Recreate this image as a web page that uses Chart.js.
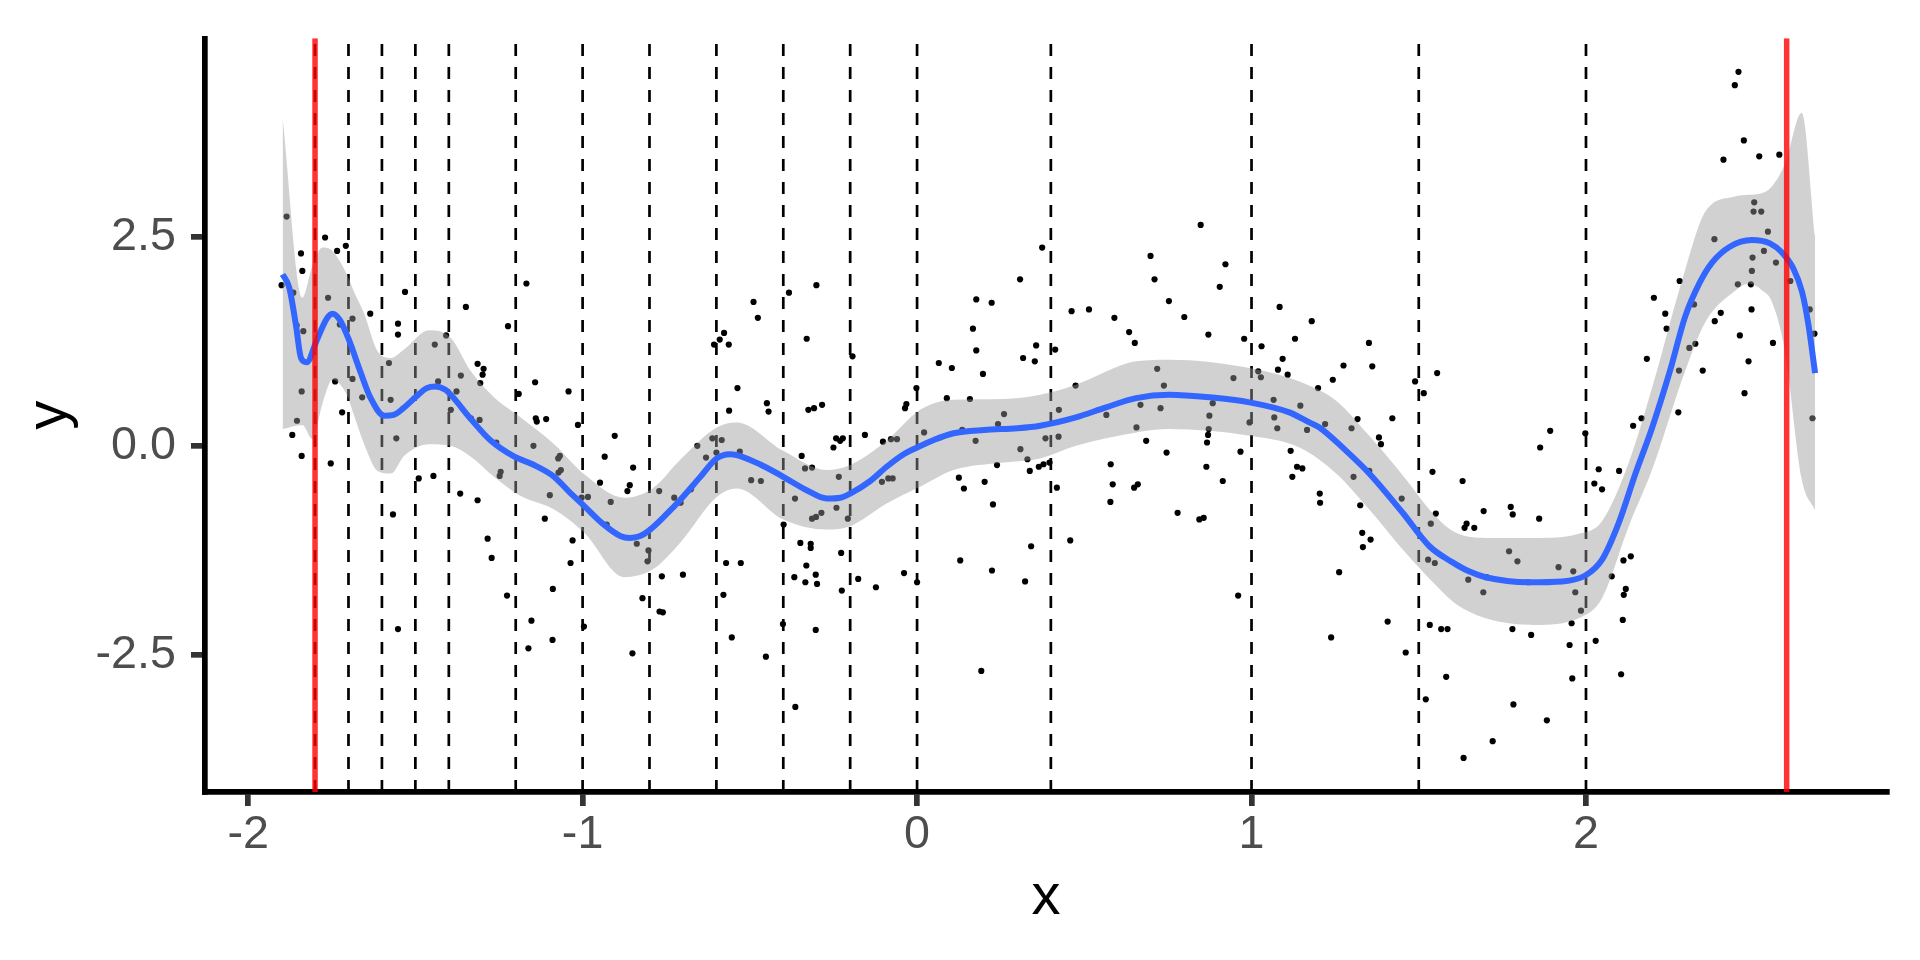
<!DOCTYPE html>
<html lang="en">
<head>
    <meta charset="UTF-8">
    <title>Spline fit with knots</title>
    <script src="https://cdn.jsdelivr.net/npm/chart.js@4"></script>
    <style>
        html, body { margin: 0; background: #ffffff; }
        #wrap { width: 1920px; height: 960px; }
    </style>
</head>
<body>
<div id="wrap"><canvas id="fitChart"></canvas></div>
<script>
    // Axis ticks
    const xTicks = [-2, -1, 0, 1, 2];
    const xTickLabels = ["-2", "-1", "0", "1", "2"];
    const yTicks = [-2.5, 0, 2.5];
    const yTickLabels = ["-2.5", "0.0", "2.5"];

    // Knot positions (dashed) and boundary knots (red)
    const knots = [-1.8, -1.7, -1.6, -1.5, -1.4, -1.2, -1.0, -0.8, -0.6, -0.4, -0.2, 0, 0.4, 1.0, 1.5, 2.0];
    const boundaryKnots = [-1.8, 2.6];

    // Fitted curve
    const smoothX = [-1.897, -1.877, -1.857, -1.842, -1.825, -1.795, -1.765, -1.748, -1.725, -1.700, -1.663, -1.635, -1.593, -1.565, -1.536, -1.500, -1.466, -1.440, -1.410, -1.394, -1.334, -1.274, -1.204, -1.150, -1.085, -1.040, -0.995, -0.940, -0.886, -0.860, -0.830, -0.798, -0.750, -0.709, -0.650, -0.599, -0.560, -0.539, -0.470, -0.400, -0.330, -0.270, -0.230, -0.200, -0.140, -0.091, -0.040, 0.000, 0.050, 0.109, 0.200, 0.300, 0.368, 0.475, 0.565, 0.655, 0.754, 0.874, 0.994, 1.113, 1.173, 1.203, 1.283, 1.352, 1.452, 1.532, 1.600, 1.650, 1.700, 1.829, 1.929, 1.998, 2.048, 2.098, 2.148, 2.198, 2.250, 2.297, 2.340, 2.377, 2.430, 2.496, 2.550, 2.586, 2.620, 2.646, 2.665, 2.685];
    const smoothY = [2.05, 1.89, 1.44, 1.05, 1.00, 1.26, 1.52, 1.58, 1.50, 1.28, 0.87, 0.58, 0.36, 0.37, 0.45, 0.58, 0.69, 0.71, 0.67, 0.61, 0.32, 0.06, -0.13, -0.22, -0.37, -0.55, -0.72, -0.93, -1.08, -1.10, -1.08, -1.00, -0.82, -0.65, -0.38, -0.15, -0.10, -0.11, -0.22, -0.37, -0.53, -0.63, -0.62, -0.57, -0.42, -0.25, -0.10, -0.02, 0.07, 0.15, 0.19, 0.21, 0.24, 0.34, 0.46, 0.57, 0.61, 0.58, 0.52, 0.40, 0.28, 0.22, -0.06, -0.33, -0.80, -1.20, -1.39, -1.50, -1.57, -1.63, -1.62, -1.55, -1.36, -0.92, -0.33, 0.22, 0.88, 1.55, 1.95, 2.19, 2.38, 2.46, 2.42, 2.31, 2.12, 1.84, 1.45, 0.87];

    // Confidence band
    const bandX = [-1.897, -1.838, -1.808, -1.778, -1.748, -1.705, -1.683, -1.653, -1.613, -1.573, -1.534, -1.459, -1.394, -1.334, -1.265, -1.185, -1.085, -0.995, -0.876, -0.788, -0.709, -0.599, -0.539, -0.400, -0.270, -0.200, -0.091, 0.009, 0.109, 0.258, 0.368, 0.475, 0.655, 0.754, 0.994, 1.143, 1.253, 1.352, 1.452, 1.552, 1.611, 1.700, 1.849, 1.978, 2.048, 2.128, 2.198, 2.297, 2.357, 2.445, 2.486, 2.526, 2.556, 2.595, 2.645, 2.685];
    const bandLow = [0.20, 0.25, 0.08, 0.50, 0.79, 0.61, 0.36, 0.02, -0.30, -0.33, -0.12, 0.02, 0.00, -0.13, -0.37, -0.60, -0.76, -1.04, -1.57, -1.47, -1.16, -0.61, -0.51, -0.88, -1.00, -0.96, -0.69, -0.49, -0.29, -0.20, -0.15, 0.00, 0.16, 0.20, 0.12, -0.02, -0.33, -0.76, -1.24, -1.67, -1.89, -2.06, -2.14, -2.06, -1.82, -0.96, -0.28, 0.90, 1.48, 1.85, 1.94, 1.86, 1.72, 1.13, -0.40, -0.77];
    const bandHigh = [3.92, 1.77, 2.15, 2.37, 2.33, 2.05, 1.84, 1.58, 1.13, 1.05, 1.15, 1.38, 1.29, 0.89, 0.58, 0.34, 0.02, -0.34, -0.62, -0.50, -0.17, 0.22, 0.28, -0.06, -0.29, -0.23, 0.06, 0.43, 0.55, 0.56, 0.61, 0.73, 1.01, 1.03, 0.93, 0.77, 0.54, 0.12, -0.35, -0.85, -1.04, -1.10, -1.10, -1.05, -0.90, -0.20, 0.70, 2.11, 2.80, 2.98, 3.00, 3.02, 3.10, 3.37, 3.98, 2.50];

    // Observations [x, y]
    const observations = [
        [-1.885, 2.74], [-1.770, 2.49], [-1.734, 2.33], [-1.708, 2.39], [-1.842, 2.30], [-1.838, 2.09], [-1.900, 1.92], [-1.865, 1.83], [-1.761, 1.77], [-1.531, 1.84],
        [-1.168, 1.94], [-1.635, 1.58], [-1.688, 1.52], [-1.349, 1.66], [-1.552, 1.46], [-1.552, 1.33], [-1.855, 1.44], [-1.835, 1.37], [-1.726, 1.45], [-1.408, 1.32],
        [-1.223, 1.43], [-1.442, 1.21], [-1.579, 0.99], [-1.314, 0.98], [-1.296, 0.92], [-1.299, 0.85], [-1.306, 0.75], [-1.364, 0.84], [-1.432, 0.77], [-1.377, 0.65],
        [-1.688, 0.80], [-1.740, 0.77], [-1.840, 0.65], [-1.659, 0.58], [-1.574, 0.55], [-1.191, 0.62], [-1.142, 0.76], [-1.042, 0.65], [-1.394, 0.43], [-1.719, 0.40],
        [-1.854, 0.30], [-1.868, 0.13], [-1.557, 0.09], [-1.334, 0.33], [-1.308, 0.31], [-1.140, 0.33], [-1.137, 0.29], [-1.109, 0.32], [-1.014, 0.25], [-0.904, 0.12],
        [-1.258, 0.04],
        [-1.840, -0.12], [-1.753, -0.21], [-1.147, 0.00], [-1.068, -0.12], [-1.073, -0.15], [-1.065, -0.29], [-1.072, -0.32], [-1.245, -0.31], [-1.248, -0.36], [-0.934, -0.13],
        [-0.948, -0.44], [-1.098, -0.59], [-1.003, -0.62], [-0.984, -0.61], [-0.916, -0.67], [-0.928, -0.94], [-1.113, -0.87], [-1.030, -1.13], [-1.036, -1.40], [-1.490, -0.39],
        [-1.446, -0.36], [-1.366, -0.57], [-1.314, -0.65], [-1.567, -0.82], [-1.284, -1.11], [-1.272, -1.34], [-1.226, -1.79], [-1.089, -1.71], [-1.153, -2.09], [-1.090, -2.32],
        [-1.162, -2.42], [-1.552, -2.19], [-0.996, -2.16],
        [0.308, 1.99], [0.177, 1.75], [0.223, 1.71], [0.167, 1.40], [0.177, 1.14], [0.197, 0.86], [0.317, 1.05], [0.352, 1.01], [0.356, 1.20], [0.065, 0.99],
        [0.104, 0.93], [0.089, 0.57], [0.158, 0.56], [0.260, 0.38], [0.242, 0.26], [0.135, 0.19], [0.175, 0.06], [0.021, 0.16], [-0.002, 0.69], [-0.032, 0.50],
        [-0.036, 0.45], [-0.156, 0.13], [-0.102, 0.05], [-0.078, 0.08], [-0.060, 0.08], [-0.242, 0.09], [-0.222, 0.09], [-0.230, 0.06], [-0.193, 1.07], [-0.383, 1.83],
        [-0.301, 1.92], [-0.330, 1.28], [-0.325, 0.43], [-0.308, 0.45], [-0.284, 0.49], [-0.489, 1.72], [-0.476, 1.53], [-0.537, 0.69], [-0.449, 0.51], [-0.444, 0.41],
        [-0.607, 1.21], [-0.590, 1.27], [-0.577, 1.35], [-0.563, 1.21], [-0.562, 0.42], [-0.612, 0.09], [-0.584, 0.07],
        [-0.849, -0.26], [-0.859, -0.47], [-0.866, -0.54], [-0.771, -0.54], [-0.726, -0.62], [-0.707, -0.68], [-0.676, -0.52], [-0.657, 0.00], [-0.631, -0.14], [-0.600, -0.08],
        [-0.530, -0.07], [-0.496, -0.41], [-0.467, -0.42], [-0.345, -0.12], [-0.335, -0.27], [-0.314, -0.26], [-0.250, -0.02], [-0.234, -0.37], [-0.365, -0.63], [-0.399, -0.94],
        [-0.314, -0.87], [-0.302, -0.85], [-0.286, -0.80], [-0.241, -0.74], [-0.207, -0.87], [-0.105, -0.43], [-0.086, -0.39], [-0.073, -0.39], [0.309, -0.04], [0.330, -0.16],
        [0.337, -0.30], [0.239, -0.23], [0.125, -0.38], [0.140, -0.51], [0.202, -0.43], [0.227, -0.70], [0.341, -1.20], [0.129, -1.37], [0.224, -1.49], [0.323, -1.62],
        [0.192, -2.69], [-0.039, -1.52], [0.000, -1.63], [-0.123, -1.69], [-0.176, -1.59], [-0.227, -1.28], [-0.225, -1.73], [-0.349, -1.16], [-0.318, -1.17], [-0.318, -1.22],
        [-0.331, -1.43], [-0.303, -1.54], [-0.299, -1.65], [-0.367, -1.57], [-0.334, -1.63], [-0.303, -2.20], [-0.401, -2.13], [-0.364, -3.12], [-0.452, -2.52], [-0.554, -2.29],
        [-0.579, -1.78], [-0.571, -1.40], [-0.527, -1.40], [-0.700, -1.54], [-0.763, -1.56], [-0.821, -1.82], [-0.770, -1.98], [-0.760, -1.99], [-0.851, -2.48], [-0.803, -1.25],
        [-0.806, -1.38], [-0.838, -1.17],
        [0.374, 2.37], [0.413, 1.15], [0.462, 1.61], [0.514, 1.63], [0.590, 1.53], [0.634, 1.36], [0.651, 1.23], [0.698, 2.27], [0.710, 1.99], [0.753, 1.73],
        [0.799, 1.54], [0.848, 2.64], [0.905, 1.90], [0.922, 2.17], [0.871, 1.33], [0.978, 1.28], [1.030, 1.19], [1.084, 1.66], [1.130, 1.28], [1.180, 1.49],
        [1.093, 1.04], [1.079, 0.91], [1.108, 0.85], [1.020, 0.89], [1.028, 0.82], [0.946, 0.81], [0.718, 0.92], [0.738, 0.72], [0.474, 0.72], [1.351, 1.23],
        [1.361, 0.95], [1.275, 0.96], [1.243, 0.79], [1.199, 0.69], [1.489, 0.77], [1.515, 0.63], [1.555, 0.87], [1.066, 0.55], [1.146, 0.48], [1.220, 0.26],
        [1.317, 0.32], [1.299, 0.21], [1.421, 0.33], [1.381, 0.10], [1.068, 0.34], [1.077, 0.21], [1.166, 0.19], [0.884, 0.51], [0.874, 0.36], [0.872, 0.20],
        [0.870, 0.13], [0.994, 0.28], [0.728, 0.45], [0.668, 0.49], [0.656, 0.22], [0.685, 0.06], [0.566, 0.37], [0.424, 0.43], [0.423, 0.11], [0.384, 0.09],
        [0.867, 0.04], [1.387, 0.02], [0.364, -0.25], [0.378, -0.22], [0.396, -0.20], [0.418, -0.50], [0.458, -1.13], [0.579, -0.22], [0.585, -0.46], [0.578, -0.67],
        [0.649, -0.50], [0.660, -0.46], [0.746, -0.08], [0.779, -0.80], [0.844, -0.88], [0.857, -0.86], [0.865, -0.25], [0.914, -0.42], [0.967, -0.07], [0.960, -1.79],
        [1.117, -0.06], [1.136, -0.25], [1.152, -0.27], [1.122, -0.37], [1.204, -0.57], [1.205, -0.68], [1.262, -1.51], [1.238, -2.29], [1.305, -0.37], [1.325, -0.71],
        [1.352, -0.30], [1.331, -1.04], [1.356, -1.12], [1.333, -1.21], [1.449, -0.63], [1.541, -0.31], [1.551, -0.81], [1.536, -0.93], [1.528, -1.36], [1.548, -1.40],
        [1.407, -2.10], [1.461, -2.47], [1.533, -2.14], [1.567, -2.19], [1.586, -2.19], [1.582, -2.76], [1.521, -3.03],
        [2.456, 4.47], [2.445, 4.31], [2.472, 3.65], [2.411, 3.42], [2.518, 3.46], [2.578, 3.48], [2.503, 2.91], [2.501, 2.80], [2.524, 2.80], [2.544, 2.56],
        [2.384, 2.47], [2.532, 2.33], [2.498, 2.25], [2.568, 2.19], [2.496, 2.09], [2.280, 1.97], [2.454, 1.93], [2.493, 1.93], [2.611, 1.97], [2.203, 1.77],
        [2.323, 1.69], [2.237, 1.58], [2.403, 1.59], [2.385, 1.49], [2.495, 1.63], [2.669, 1.63], [2.241, 1.40], [2.460, 1.32], [2.683, 1.34], [2.327, 1.22],
        [2.309, 1.17], [2.559, 1.23], [2.182, 1.04], [2.278, 0.90], [2.349, 0.90], [2.486, 1.01], [2.474, 0.63], [2.276, 0.40], [2.166, 0.33], [2.141, 0.24],
        [2.677, 0.33], [1.893, 0.18], [1.998, 0.15],
        [1.863, -0.02], [1.631, -0.42], [1.694, -0.78], [1.775, -0.73], [1.781, -0.82], [1.860, -0.87], [1.643, -0.93], [1.637, -0.98], [1.666, -0.98], [2.038, -0.28],
        [2.099, -0.30], [2.025, -0.45], [2.048, -0.52], [1.770, -1.26], [1.795, -1.38], [1.918, -1.45], [1.962, -1.50], [2.134, -1.32], [2.112, -1.37], [2.077, -1.56],
        [1.648, -1.60], [1.703, -1.57], [1.827, -1.63], [1.693, -1.75], [1.968, -1.75], [2.119, -1.71], [2.113, -1.78], [1.985, -1.97], [1.957, -2.12], [2.110, -2.08],
        [1.780, -2.19], [1.836, -2.26], [1.951, -2.38], [2.029, -2.33], [2.105, -2.73], [1.959, -2.78], [1.783, -3.09], [1.883, -3.28], [1.721, -3.53], [1.634, -3.73]
    ];

    const xMin = -2.129, xMax = 2.900;
    const yMin = -4.137, yMax = 4.870;

    const FONT = "'Liberation Sans', Arial, Helvetica, sans-serif";

    // Vertical reference lines go from bottom to top of the panel
    const vline = (x) => [{ x: x, y: yMin }, { x: x, y: yMax }];

    const datasets = [];

    // red boundary knots (on top)
    boundaryKnots.forEach((k) => {
        datasets.push({
            type: "line",
            data: vline(k),
            borderColor: "rgba(255, 0, 0, 0.8)",
            borderWidth: 5.5,
            pointRadius: 0,
            order: 0
        });
    });

    // fitted curve
    datasets.push({
        type: "line",
        data: smoothX.map((x, i) => ({ x: x, y: smoothY[i] })),
        borderColor: "#3366FF",
        borderWidth: 6,
        pointRadius: 0,
        cubicInterpolationMode: "monotone",
        order: 1
    });

    // confidence band: upper filled down to lower
    const upperIndex = datasets.length;
    datasets.push({
        type: "line",
        data: bandX.map((x, i) => ({ x: x, y: bandHigh[i] })),
        borderColor: "rgba(0,0,0,0)",
        borderWidth: 0,
        pointRadius: 0,
        cubicInterpolationMode: "monotone",
        fill: { target: upperIndex + 1 },
        backgroundColor: "rgba(153, 153, 153, 0.45)",
        order: 2
    });
    datasets.push({
        type: "line",
        data: bandX.map((x, i) => ({ x: x, y: bandLow[i] })),
        borderColor: "rgba(0,0,0,0)",
        borderWidth: 0,
        pointRadius: 0,
        cubicInterpolationMode: "monotone",
        fill: false,
        order: 2
    });

    // dashed knot lines
    knots.forEach((k) => {
        datasets.push({
            type: "line",
            data: vline(k),
            borderColor: "#000000",
            borderWidth: 2.7,
            borderDash: [12, 11],
            pointRadius: 0,
            order: 3
        });
    });

    // observations (drawn first, under everything)
    datasets.push({
        type: "scatter",
        data: observations.map((p) => ({ x: p[0], y: p[1] })),
        backgroundColor: "#000000",
        borderWidth: 0,
        pointRadius: 3.1,
        order: 4
    });

    const ctx = document.getElementById("fitChart").getContext("2d");
    new Chart(ctx, {
        type: "scatter",
        data: { datasets: datasets },
        options: {
            responsive: true,
            maintainAspectRatio: false,
            animation: false,
            layout: { padding: { top: 30, right: 33, left: 0, bottom: 0 } },
            plugins: {
                legend: { display: false },
                tooltip: { enabled: false }
            },
            scales: {
                x: {
                    type: "linear",
                    min: xMin,
                    max: xMax,
                    afterBuildTicks: (s) => { s.ticks = xTicks.map((v) => ({ value: v })); },
                    afterFit: (s) => { s.height = 168; },
                    ticks: {
                        callback: (v) => xTickLabels[xTicks.indexOf(v)],
                        color: "#4D4D4D",
                        font: { family: FONT, size: 46.7, lineHeight: 1 },
                        padding: 6,
                        maxRotation: 0
                    },
                    grid: { drawOnChartArea: false, drawTicks: true, tickLength: 14, lineWidth: 5.7, color: "#333333" },
                    border: { display: true, color: "#000000", width: 5.7 },
                    title: {
                        display: true,
                        text: "x",
                        color: "#000000",
                        font: { family: FONT, size: 58, lineHeight: 1 },
                        padding: { top: 0, bottom: 33 }
                    }
                },
                y: {
                    type: "linear",
                    min: yMin,
                    max: yMax,
                    afterBuildTicks: (s) => { s.ticks = yTicks.map((v) => ({ value: v })); },
                    afterFit: (s) => { s.width = 205; },
                    ticks: {
                        callback: (v) => yTickLabels[yTicks.indexOf(v)],
                        color: "#4D4D4D",
                        font: { family: FONT, size: 46.7, lineHeight: 1 },
                        padding: 15
                    },
                    grid: { drawOnChartArea: false, drawTicks: true, tickLength: 14, lineWidth: 5.7, color: "#333333" },
                    border: { display: true, color: "#000000", width: 5.7 },
                    title: {
                        display: true,
                        text: "y",
                        color: "#000000",
                        font: { family: FONT, size: 58, lineHeight: 1 },
                        padding: { top: 21, bottom: 0 }
                    }
                }
            }
        }
    });
</script>
</body>
</html>
